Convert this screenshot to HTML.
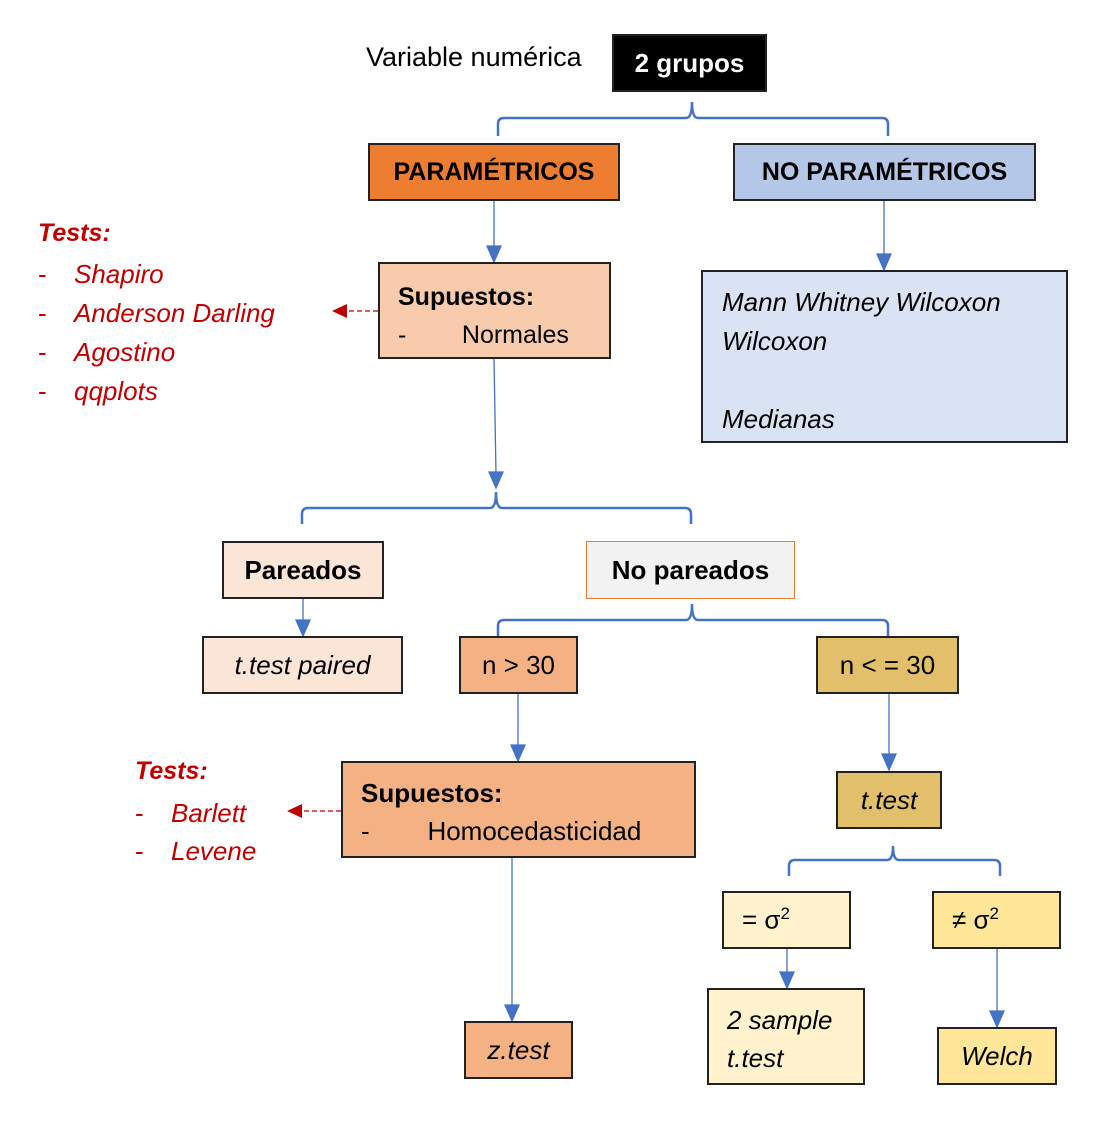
<!DOCTYPE html>
<html><head><meta charset="utf-8"><style>
body{margin:0;width:1114px;height:1122px;background:#fff;position:relative;overflow:hidden;font-family:"Liberation Sans",sans-serif;}
.b{position:absolute;box-sizing:border-box;border:2px solid #222;font-size:25px;color:#000;}
.c{display:flex;align-items:center;justify-content:center;}
.t{position:absolute;font-size:25px;white-space:nowrap;}
.r{color:#c00000;font-style:italic;}
.d{display:inline-block;width:36px;font-style:normal;}
svg{position:absolute;left:0;top:0;}
sup{font-size:17px;}
</style></head><body>
<svg width="1114" height="1122">
<g fill="none" stroke="#4472c4" stroke-width="2.5">
<path d="M498,136 V124 Q498,118 504,118 H686 Q692,118 692,102 Q692,118 698,118 H882 Q888,118 888,124 V136"/>
<path d="M302,524 V514 Q302,508 308,508 H490 Q496,508 496,492 Q496,508 502,508 H685 Q691,508 691,514 V524"/>
<path d="M498,636 V626 Q498,620 504,620 H686 Q692,620 692,604 Q692,620 698,620 H882 Q888,620 888,626 V636"/>
<path d="M789,876 V866 Q789,860 795,860 H887 Q893,860 893,846 Q893,860 899,860 H994 Q1000,860 1000,866 V876"/>
</g>
<g stroke="#4472c4" stroke-width="1.3">
<line x1="494" y1="201" x2="494" y2="248"/><path d="M487,246 L501,246 L494,262z" fill="#4472c4"/>
<line x1="884" y1="201" x2="884" y2="256"/><path d="M877,254 L891,254 L884,270z" fill="#4472c4"/>
<line x1="494" y1="359" x2="496" y2="474"/><path d="M489,472 L503,472 L496,488z" fill="#4472c4"/>
<line x1="303" y1="599" x2="303" y2="622"/><path d="M296,620 L310,620 L303,636z" fill="#4472c4"/>
<line x1="518" y1="694" x2="518" y2="747"/><path d="M511,745 L525,745 L518,761z" fill="#4472c4"/>
<line x1="889" y1="694" x2="889" y2="756"/><path d="M882,754 L896,754 L889,770z" fill="#4472c4"/>
<line x1="787" y1="949" x2="787" y2="974"/><path d="M780,972 L794,972 L787,988z" fill="#4472c4"/>
<line x1="997" y1="949" x2="997" y2="1013"/><path d="M990,1011 L1004,1011 L997,1027z" fill="#4472c4"/>
<line x1="512" y1="858" x2="512" y2="1007"/><path d="M505,1005 L519,1005 L512,1021z" fill="#4472c4"/>
</g>
<g stroke="#c00000" stroke-width="1.3" stroke-dasharray="5,3">
<line x1="378" y1="311" x2="345" y2="311"/><line x1="341" y1="811" x2="300" y2="811"/>
</g>
<path d="M347,304 L332,311 L347,318z" fill="#c00000"/>
<path d="M302,804 L287,811 L302,818z" fill="#c00000"/>
</svg>
<div class="t" style="left:366px;top:42px;font-size:27px">Variable numérica</div>
<div class="b c" style="left:612px;top:34px;width:155px;height:58px;background:#000;color:#fff;font-weight:bold;font-size:26px">2 grupos</div>
<div class="b c" style="left:368px;top:143px;width:252px;height:58px;background:#ed7d31;font-weight:bold;font-size:25px">PARAMÉTRICOS</div>
<div class="b c" style="left:733px;top:143px;width:303px;height:58px;background:#b4c7e7;font-weight:bold;font-size:25px">NO PARAMÉTRICOS</div>
<div class="b" style="left:378px;top:262px;width:233px;height:97px;background:#f8cbad;padding:14px 0 0 18px;line-height:38px"><b>Supuestos:</b><br>-&nbsp;&nbsp;&nbsp;&nbsp;&nbsp;&nbsp;&nbsp;&nbsp;Normales</div>
<div class="b" style="left:701px;top:270px;width:367px;height:173px;background:#dae3f3;padding:11px 0 0 19px;line-height:39px;font-style:italic;font-size:26px">Mann Whitney Wilcoxon<br>Wilcoxon<br><br>Medianas</div>
<div class="t r" style="left:38px;top:219px;font-weight:bold">Tests:</div>
<div class="t r" style="left:38px;top:255px;line-height:39px;font-size:26px"><span class="d">-</span>Shapiro<br><span class="d">-</span>Anderson Darling<br><span class="d">-</span>Agostino<br><span class="d">-</span>qqplots</div>
<div class="b c" style="left:222px;top:541px;width:162px;height:58px;background:#fbe5d6;font-weight:bold;font-size:26px">Pareados</div>
<div class="b c" style="left:586px;top:541px;width:209px;height:58px;background:#f2f2f2;border-color:#ed7d31;border-width:1.5px;font-weight:bold;font-size:26px">No pareados</div>
<div class="b c" style="left:202px;top:636px;width:201px;height:58px;background:#fbe5d6;font-style:italic;font-size:26px">t.test paired</div>
<div class="b c" style="left:459px;top:636px;width:119px;height:58px;background:#f4b183;font-size:26px">n &gt; 30</div>
<div class="b c" style="left:816px;top:636px;width:143px;height:58px;background:#e2bf6b;font-size:26px">n &lt; = 30</div>
<div class="b" style="left:341px;top:761px;width:355px;height:97px;background:#f4b183;padding:11px 0 0 18px;line-height:38px;font-size:26px"><b>Supuestos:</b><br>-&nbsp;&nbsp;&nbsp;&nbsp;&nbsp;&nbsp;&nbsp;&nbsp;Homocedasticidad</div>
<div class="t r" style="left:135px;top:757px;font-weight:bold">Tests:</div>
<div class="t r" style="left:135px;top:794px;line-height:38px;font-size:26px"><span class="d">-</span>Barlett<br><span class="d">-</span>Levene</div>
<div class="b c" style="left:836px;top:771px;width:106px;height:58px;background:#e2bf6b;font-style:italic;font-size:26px">t.test</div>
<div class="b" style="left:722px;top:891px;width:129px;height:58px;background:#fff2cc;padding:11px 0 0 18px;font-size:26px">= σ<sup>2</sup></div>
<div class="b" style="left:932px;top:891px;width:129px;height:58px;background:#ffe699;padding:11px 0 0 18px;font-size:26px">≠ σ<sup>2</sup></div>
<div class="b" style="left:707px;top:988px;width:158px;height:97px;background:#fff2cc;padding:11px 0 0 18px;line-height:38px;font-style:italic;font-size:26px">2 sample<br>t.test</div>
<div class="b c" style="left:937px;top:1027px;width:120px;height:58px;background:#ffe699;font-style:italic;font-size:26px">Welch</div>
<div class="b c" style="left:464px;top:1021px;width:109px;height:58px;background:#f4b183;font-style:italic;font-size:26px">z.test</div>
</body></html>
